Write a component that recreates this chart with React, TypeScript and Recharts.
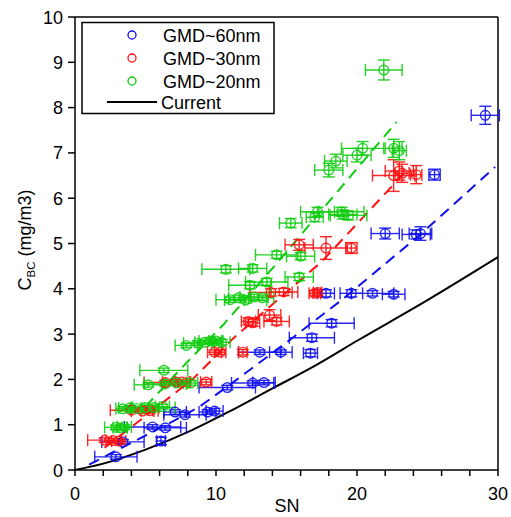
import React from 'react';
import { ComposedChart, Scatter, Line, XAxis, YAxis, ErrorBar, ReferenceLine } from 'recharts';

const BLUE = '#1010ee';
const RED = '#ff1010';
const GREEN = '#10cc10';

// [SN, C_BC, xErr, yErr]
const blueRaw: number[][] = [
  [2.9, 0.29, 1.5, 0.05], [3.4, 0.62, 1.5, 0.05], [6.1, 0.64, 0.3, 0.08], [5.5, 0.95, 2.0, 0.05],
  [6.4, 0.93, 1.5, 0.05], [7.1, 1.28, 0.8, 0.05], [7.8, 1.22, 1.5, 0.05], [9.4, 1.28, 0.6, 0.05],
  [9.9, 1.3, 0.6, 0.06], [10.8, 1.82, 2.0, 0.05], [12.6, 1.92, 1.5, 0.05], [13.4, 1.93, 0.8, 0.05],
  [13.1, 2.6, 1.5, 0.05], [14.6, 2.6, 0.8, 0.05], [16.7, 2.58, 0.5, 0.08], [16.8, 2.92, 1.6, 0.08],
  [18.2, 3.24, 1.6, 0.08], [17.8, 3.9, 0.6, 0.08], [19.6, 3.9, 0.8, 0.08], [21.1, 3.9, 1.5, 0.06],
  [22.6, 3.88, 0.8, 0.06], [22.0, 5.22, 1.0, 0.12], [24.2, 5.2, 1.0, 0.1], [24.5, 5.22, 0.8, 0.15],
  [25.5, 6.52, 0.4, 0.12], [29.1, 7.83, 1.0, 0.2],
];

const redRaw: number[][] = [
  [2.1, 0.66, 1.2, 0.05], [2.7, 0.65, 0.5, 0.05], [3.1, 0.64, 0.5, 0.05], [4.0, 1.32, 1.5, 0.05],
  [4.8, 1.3, 0.8, 0.05], [5.3, 1.31, 0.6, 0.05], [6.4, 1.93, 1.5, 0.05], [7.2, 1.94, 1.0, 0.05],
  [7.6, 1.94, 0.5, 0.05], [9.3, 1.94, 0.4, 0.06], [9.9, 2.6, 0.5, 0.05], [10.3, 2.6, 0.4, 0.05],
  [11.9, 2.6, 0.3, 0.06], [12.3, 3.28, 0.5, 0.08], [12.6, 3.25, 0.5, 0.08], [13.8, 3.42, 0.8, 0.12],
  [14.3, 3.28, 0.9, 0.08], [13.9, 3.92, 1.5, 0.08], [14.8, 3.93, 1.0, 0.08], [17.0, 3.9, 0.4, 0.06],
  [17.2, 3.92, 0.3, 0.06], [15.9, 4.97, 1.0, 0.12], [17.8, 4.9, 1.5, 0.25], [19.6, 4.9, 0.4, 0.12],
  [22.6, 6.5, 1.5, 0.35], [23.0, 6.6, 1.0, 0.2], [23.2, 6.55, 0.5, 0.2], [24.2, 6.52, 0.4, 0.2],
];

const greenRaw: number[][] = [
  [2.9, 0.94, 0.8, 0.05], [3.2, 0.93, 0.5, 0.05], [3.5, 0.95, 0.5, 0.05], [3.4, 1.35, 0.5, 0.05],
  [3.9, 1.37, 0.8, 0.05], [4.4, 1.36, 0.5, 0.05], [5.0, 1.38, 1.0, 0.05], [5.6, 1.38, 1.5, 0.05],
  [6.2, 1.4, 0.5, 0.05], [5.2, 1.88, 1.0, 0.05], [6.4, 1.9, 1.5, 0.05], [7.2, 1.92, 0.8, 0.05],
  [8.2, 1.92, 0.5, 0.05], [6.3, 2.2, 1.7, 0.05], [7.9, 2.75, 0.8, 0.05], [8.7, 2.8, 1.0, 0.05],
  [9.2, 2.82, 0.7, 0.05], [9.6, 2.85, 0.8, 0.06], [10.0, 2.85, 0.5, 0.06], [10.4, 2.82, 0.6, 0.06],
  [11.0, 3.76, 1.0, 0.06], [11.6, 3.8, 0.7, 0.06], [12.1, 3.75, 1.5, 0.06], [12.7, 3.82, 1.0, 0.06],
  [13.3, 3.8, 0.8, 0.06], [12.4, 4.08, 1.5, 0.08], [13.6, 4.15, 1.5, 0.08], [15.9, 4.26, 1.0, 0.08],
  [10.7, 4.43, 1.7, 0.08], [12.6, 4.45, 1.0, 0.08], [14.3, 4.75, 1.5, 0.08], [16.0, 4.72, 1.0, 0.08],
  [15.3, 5.45, 0.8, 0.1], [17.0, 5.58, 0.6, 0.1], [17.2, 5.7, 1.2, 0.1], [18.9, 5.7, 1.6, 0.1],
  [19.0, 5.64, 1.0, 0.1], [19.4, 5.62, 1.3, 0.1], [18.0, 6.62, 1.0, 0.15], [18.5, 6.82, 0.8, 0.15],
  [20.0, 6.95, 1.0, 0.15], [20.4, 7.1, 1.5, 0.15], [22.6, 7.1, 0.6, 0.2], [23.0, 7.05, 0.5, 0.2],
  [21.9, 8.83, 1.3, 0.22],
];

// dashed fit lines and "Current" curve: [SN, C_BC]
const blueFit: number[][] = [[1.0, 0.12], [7.1, 1.1], [8.8, 1.39], [11.45, 1.99], [15.4, 2.91], [18.9, 3.75], [24.5, 5.2], [29.8, 6.69]];
const redFit: number[][] = [[2.1, 0.49], [8.3, 1.99], [11.2, 2.9], [17.5, 4.6], [23.7, 6.67]];
const greenFit: number[][] = [[5.0, 1.4], [7.4, 2.2], [10.5, 3.2], [14.0, 4.45], [22.8, 7.68]];
const currentCurve: number[][] = [[0, 0], [2, 0.14], [5, 0.45], [8.3, 0.88], [11, 1.3], [14, 1.8], [17, 2.3], [20.1, 2.87], [25, 3.75], [30, 4.7]];

const xTicks = [0, 2, 4, 6, 8, 10, 12, 14, 16, 18, 20, 22, 24, 26, 28, 30];
const yTicks = [0, 1, 2, 3, 4, 5, 6, 7, 8, 9, 10];
const xLabels = [0, 10, 20, 30];

const toPts = (a: number[][]) => a.map((r) => ({ x: r[0], y: r[1], ex: r[2], ey: r[3] }));
const toLine = (a: number[][]) => a.map((r) => ({ x: r[0], y: r[1] }));

const FONT = '"Liberation Sans", Arial, sans-serif';
const FS = 18;

const circleShape = (color: string) => (props: any) => {
  if (props.cx == null || props.cy == null) return <g />;
  return <circle cx={props.cx} cy={props.cy} r={4.8} fill="none" stroke={color} strokeWidth={1.4} strokeOpacity={0.9} />;
};

const XTick = (props: any) => {
  const { x, y, payload } = props;
  if (!xLabels.includes(payload.value)) return <g />;
  return (
    <text x={x} y={y + 22} textAnchor="middle" fontSize={FS} fontFamily={FONT} fill="#000">
      {payload.value}
    </text>
  );
};

const YTick = (props: any) => {
  const { x, y, payload } = props;
  return (
    <text x={x - 2} y={y + 6.5} textAnchor="end" fontSize={FS} fontFamily={FONT} fill="#000">
      {payload.value}
    </text>
  );
};

const series = [
  { name: 'GMD~60nm', color: BLUE, data: toPts(blueRaw) },
  { name: 'GMD~30nm', color: RED, data: toPts(redRaw) },
  { name: 'GMD~20nm', color: GREEN, data: toPts(greenRaw) },
];

export default function App() {
  return (
    <div style={{ position: 'absolute', left: 0, top: 0, width: 511, height: 517, background: '#fff' }}>
      <ComposedChart width={511} height={517} margin={{ top: 17, right: 13, bottom: 0, left: 0 }}>
        <XAxis
          type="number"
          dataKey="x"
          domain={[0, 30]}
          ticks={xTicks}
          interval={0}
          allowDataOverflow
          height={47}
          tickSize={6}
          tickMargin={2}
          stroke="#000"
          strokeWidth={1.5}
          tick={<XTick />}
        />
        <YAxis
          type="number"
          dataKey="y"
          domain={[0, 10]}
          ticks={yTicks}
          interval={0}
          allowDataOverflow
          width={75}
          tickSize={7}
          tickMargin={3}
          stroke="#000"
          strokeWidth={1.5}
          tick={<YTick />}
        />
        <ReferenceLine y={10} stroke="#000" strokeWidth={1.5} />
        <ReferenceLine x={30} stroke="#000" strokeWidth={1.5} />
        <Line data={toLine(currentCurve)} dataKey="y" type="monotone" stroke="#000" strokeWidth={2} dot={false} isAnimationActive={false} legendType="none" />
        <Line data={toLine(blueFit)} dataKey="y" type="linear" stroke={BLUE} strokeWidth={2} strokeDasharray="11 7" dot={false} isAnimationActive={false} />
        <Line data={toLine(redFit)} dataKey="y" type="linear" stroke={RED} strokeWidth={2} strokeDasharray="11 7" dot={false} isAnimationActive={false} />
        <Line data={toLine(greenFit)} dataKey="y" type="linear" stroke={GREEN} strokeWidth={2} strokeDasharray="11 7" dot={false} isAnimationActive={false} />
        {series.map((s) => (
          <Scatter key={s.name} name={s.name} data={s.data} dataKey="y" shape={circleShape(s.color)} isAnimationActive={false}>
            <ErrorBar dataKey="ex" direction="x" width={6} stroke={s.color} strokeWidth={1.4} strokeOpacity={0.9} isAnimationActive={false} />
            <ErrorBar dataKey="ey" direction="y" width={6} stroke={s.color} strokeWidth={1.4} strokeOpacity={0.9} isAnimationActive={false} />
          </Scatter>
        ))}
      </ComposedChart>
      <svg width={511} height={517} style={{ position: 'absolute', left: 0, top: 0, pointerEvents: 'none' }}>
        <text transform="translate(31,240) rotate(-90)" textAnchor="middle" fontSize={FS} fontFamily={FONT} fill="#000">
          <tspan>C</tspan>
          <tspan fontSize={11.5} dy={4}>BC</tspan>
          <tspan fontSize={FS} dy={-4}> (mg/m3)</tspan>
        </text>
        <text x={287} y={512} textAnchor="middle" fontSize={FS} fontFamily={FONT} fill="#000">SN</text>
        <rect x={82} y={22.5} width={192} height={91} fill="#fff" stroke="#000" strokeWidth={1.5} />
        {series.map((s, i) => (
          <g key={s.name}>
            <circle cx={132} cy={35 + i * 23} r={4} fill="none" stroke={s.color} strokeWidth={1.3} />
            <text x={163} y={41.5 + i * 23} fontSize={FS} fontFamily={FONT} fill="#000">{s.name}</text>
          </g>
        ))}
        <line x1={107} y1={102} x2={157} y2={102} stroke="#000" strokeWidth={2} />
        <text x={161} y={108.5} fontSize={FS} fontFamily={FONT} fill="#000">Current</text>
      </svg>
    </div>
  );
}
